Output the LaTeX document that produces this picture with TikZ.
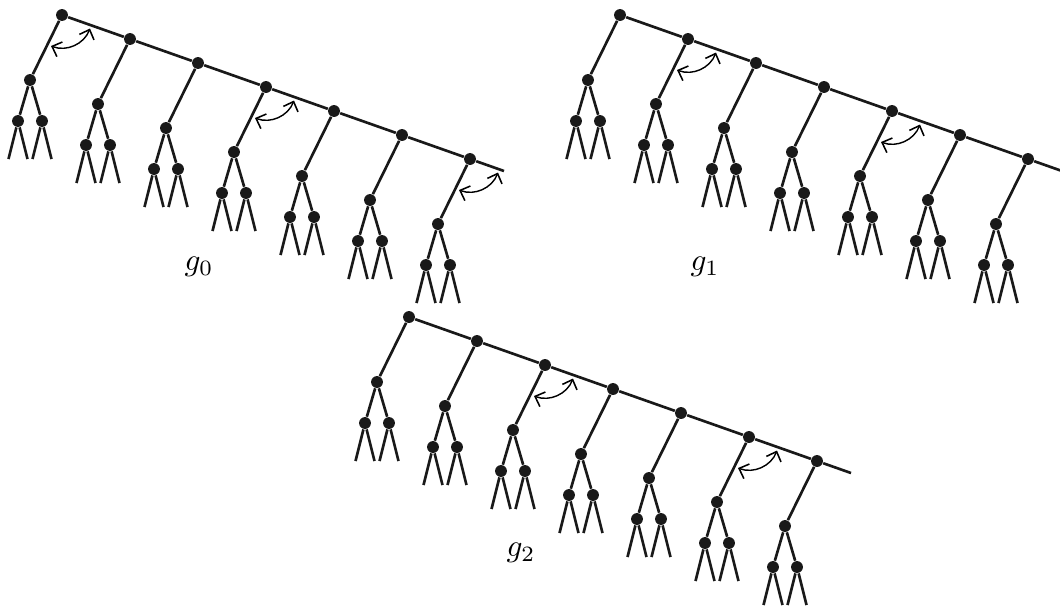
\documentclass[tikz,border=0pt]{standalone}
\usetikzlibrary{arrows.meta,calc}

\tikzset{
  x=0.32pt, y=-0.32pt,
  vtx/.style={circle,fill=black!90,inner sep=0pt,minimum size=3.8pt},
  branch/.style={line width=0.85pt,black!90},
  twist/.style={{Straight Barb[length=2.6pt,width=5pt,line width=0.5pt]}-{Straight Barb[length=2.6pt,width=5pt,line width=0.5pt]},
    line width=0.45pt, bend right=45},
  lbl/.style={inner sep=0pt, font=\fontsize{10}{12}\selectfont},
}

% #1 name prefix, #2/#3 root position, #4 spine vertices carrying a rotation arrow
\newcommand\combtree[4]{%
  \foreach \i in {0,...,6} {
    \node[vtx] (#1s\i) at ({#2+68*\i},{#3+24*\i}) {};
    \node[vtx] (#1c\i) at ($(#1s\i)+(-32,65)$) {};
    \node[vtx] (#1l\i) at ($(#1c\i)+(-12,41)$) {};
    \node[vtx] (#1r\i) at ($(#1c\i)+(12,41)$) {};
    \coordinate (#1la\i) at ($(#1l\i)+(-9.5,38)$);
    \coordinate (#1lb\i) at ($(#1l\i)+(9.5,38)$);
    \coordinate (#1ra\i) at ($(#1r\i)+(-9.5,38)$);
    \coordinate (#1rb\i) at ($(#1r\i)+(9.5,38)$);
    \draw[branch] (#1s\i) -- (#1c\i);
    \draw[branch] (#1c\i) -- (#1l\i);
    \draw[branch] (#1c\i) -- (#1r\i);
    \draw[branch] (#1l\i) -- (#1la\i);
    \draw[branch] (#1l\i) -- (#1lb\i);
    \draw[branch] (#1r\i) -- (#1ra\i);
    \draw[branch] (#1r\i) -- (#1rb\i);
  }
  \foreach \i [count=\j] in {0,...,5} {
    \draw[branch] (#1s\i) -- (#1s\j);
  }
  \coordinate (#1end) at ($(#1s6)+(34,12)$);
  \draw[branch] (#1s6) -- (#1end);
  \foreach \k in {#4} {
    \coordinate (#1a\k) at ($(#1s\k)+(-11,31)$);
    \coordinate (#1b\k) at ($(#1s\k)+(28,13.5)$);
    \draw[twist] (#1a\k) to (#1b\k);
  }
}

\begin{document}
\begin{tikzpicture}
  \useasboundingbox (0,0) rectangle (1060,609);

  \combtree{A}{62}{15}{0,3,6}
  \combtree{B}{620}{15}{1,4}
  \combtree{C}{409}{317}{2,5}

  \node[lbl] (g0) at (199,267) {$g_0$};
  \node[lbl] (g1) at (705,267) {$g_1$};
  \node[lbl] (g2) at (521,553) {$g_2$};
\end{tikzpicture}
\end{document}
